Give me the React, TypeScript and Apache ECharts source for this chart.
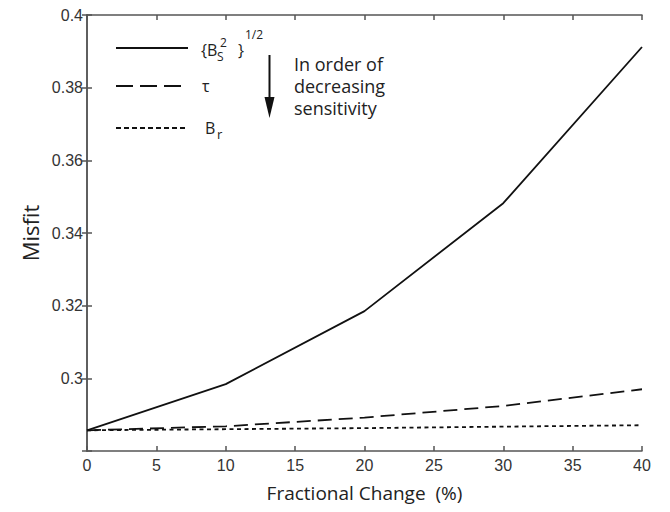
import React, { useEffect, useRef } from "react";
import * as echarts from "echarts";

const xValues = [0, 10, 20, 30, 40];
const bsValues = [0.2857, 0.2984, 0.3185, 0.3482, 0.3912];
const tauValues = [0.2857, 0.2868, 0.2892, 0.2924, 0.297];
const brValues = [0.2857, 0.286, 0.2863, 0.2867, 0.2871];
const xTicks = { min: 0, max: 40, interval: 5 };
const yTicks = { min: 0.28, max: 0.4, interval: 0.02 };
const annotationLines = ["In order of", "decreasing", "sensitivity"];

const pairs = (ys: number[]) => xValues.map((x, i) => [x, ys[i]]);

export default function App() {
  const ref = useRef<HTMLDivElement>(null);
  useEffect(() => {
    if (!ref.current) return;
    const chart = echarts.init(ref.current, undefined, { renderer: "svg" });
    const axisColor = "#555";
    const labelFont = "Liberation Sans";
    const titleFont = "Open Sans";
    const axisCommon = {
      axisLine: { show: true, lineStyle: { color: axisColor, width: 1.5 } },
      axisTick: { show: true, inside: true, length: 5, lineStyle: { color: axisColor, width: 1.5 } },
      splitLine: { show: false },
    };
    const lineColor = "#111";
    const txt = (text: string, x: number, y: number, size: number, align = "left") => ({
      type: "text",
      x,
      y,
      style: {
        text,
        fontSize: size,
        fontFamily: titleFont,
        fill: "#222",
        textAlign: align,
        textVerticalAlign: "middle",
      },
      silent: true,
    });
    const legendLine = (y: number, dash: number[] | null) => ({
      type: "line",
      shape: { x1: 116, y1: y, x2: 188, y2: y },
      style: { stroke: lineColor, lineWidth: 1.8, lineDash: dash || undefined },
      silent: true,
    });
    chart.setOption({
      animation: false,
      backgroundColor: "#fff",
      grid: { left: 87, right: 28, top: 15, bottom: 61, containLabel: false },
      xAxis: [
        {
          type: "value",
          position: "bottom",
          min: xTicks.min,
          max: xTicks.max,
          interval: xTicks.interval,
          ...axisCommon,
          axisLabel: { color: "#333", fontSize: 16, fontFamily: labelFont, margin: 6 },
          name: "Fractional Change\u00a0\u00a0(%)",
          nameLocation: "middle",
          nameGap: 32,
          nameTextStyle: { fontSize: 19, fontFamily: titleFont, color: "#222" },
        },
        {
          type: "value",
          position: "top",
          min: xTicks.min,
          max: xTicks.max,
          interval: xTicks.interval,
          ...axisCommon,
          axisLabel: { show: false },
        },
      ],
      yAxis: [
        {
          type: "value",
          position: "left",
          min: yTicks.min,
          max: yTicks.max,
          interval: yTicks.interval,
          ...axisCommon,
          axisLabel: {
            color: "#333",
            fontSize: 16,
            fontFamily: labelFont,
            margin: 4,
            formatter: (v: number) => (v < 0.285 ? "" : String(+v.toFixed(2))),
          },
          name: "Misfit",
          nameLocation: "middle",
          nameGap: 44,
          nameRotate: 90,
          nameTextStyle: { fontSize: 22, fontFamily: titleFont, color: "#222" },
        },
        {
          type: "value",
          position: "right",
          min: yTicks.min,
          max: yTicks.max,
          interval: yTicks.interval,
          ...axisCommon,
          axisLabel: { show: false },
        },
      ],
      series: [
        {
          name: "{Bs^2}^1/2",
          type: "line",
          data: pairs(bsValues),
          symbol: "none",
          lineStyle: { color: lineColor, width: 1.8, type: "solid" },
        },
        {
          name: "τ",
          type: "line",
          data: pairs(tauValues),
          symbol: "none",
          lineStyle: { color: lineColor, width: 1.8, type: [14, 7] },
        },
        {
          name: "Br",
          type: "line",
          data: pairs(brValues),
          symbol: "none",
          lineStyle: { color: lineColor, width: 1.8, type: [4, 3.5] },
        },
      ],
      graphic: [
        legendLine(48, null),
        legendLine(86, [17, 7]),
        legendLine(128, [5, 3]),
        txt("{B", 201, 50, 16),
        txt("S", 217, 56, 12),
        txt("2", 220, 42, 12),
        txt("}", 238, 50, 16),
        txt("1/2", 245, 34, 12),
        txt("τ", 202, 86, 16),
        txt("B", 205, 128, 16),
        txt("r", 217, 134, 13),
        {
          type: "line",
          shape: { x1: 269.5, y1: 55, x2: 269.5, y2: 100 },
          style: { stroke: "#111", lineWidth: 2 },
          silent: true,
        },
        {
          type: "polygon",
          shape: { points: [[264.5, 97], [274.5, 97], [269.5, 118]] },
          style: { fill: "#111" },
          silent: true,
        },
        {
          type: "text",
          x: 294,
          y: 53,
          style: {
            text: annotationLines.join("\n"),
            fontSize: 18,
            lineHeight: 22,
            fontFamily: titleFont,
            fill: "#222",
            textAlign: "left",
            textVerticalAlign: "top",
          },
          silent: true,
        },
      ],
    });
    return () => chart.dispose();
  }, []);
  return <div ref={ref} style={{ width: 670, height: 512, margin: -8 }} />;
}
